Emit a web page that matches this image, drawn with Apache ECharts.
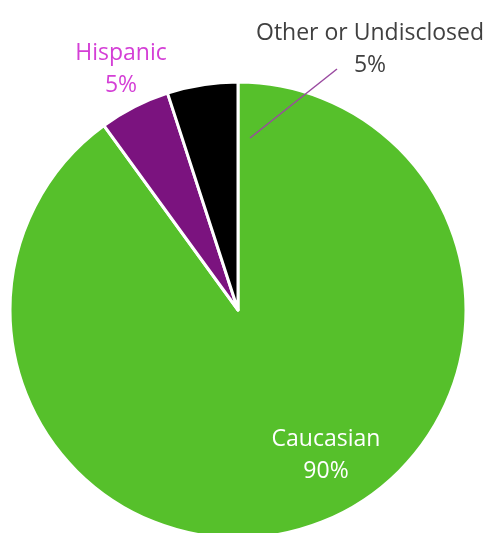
<!DOCTYPE html>
<html><head><meta charset="utf-8">
<script src="https://cdn.jsdelivr.net/npm/echarts@6/dist/echarts.min.js"></script>
<style>html,body{margin:0;padding:0;background:#fff}#c{width:489px;height:533px}</style>
</head><body><div id="c"></div>
<script>
const categories = ['Caucasian', 'Hispanic', 'Other or Undisclosed'];
const values = [90, 5, 5];
const colors = ['#56c02b', '#7b137f', '#000000'];
const labelColors = ['#ffffff', '#d43fd6', '#404040'];
const labelPos = [[326, 455], [121, 69], [370, 49]];

const chart = echarts.init(document.getElementById('c'));
chart.setOption({
  animation: false,
  graphic: [{
    type: 'polyline', silent: true, z: 100,
    shape: { points: [[250, 138], [337, 69]] },
    style: { stroke: '#9a4aa0', lineWidth: 1.5, fill: null }
  }],
  series: [{
    type: 'pie',
    center: [238, 310],
    radius: 228,
    startAngle: 90,
    clockwise: true,
    itemStyle: { borderColor: '#fff', borderWidth: 3 },
    label: {
      formatter: p => p.name + '\n' + p.value + '%',
      fontFamily: 'Open Sans', fontSize: 23, lineHeight: 32, align: 'center',
      overflow: 'none', width: 400
    },
    labelLine: { show: false },
    labelLayout: function (p) {
      const i = p.dataIndex;
      return { x: labelPos[i][0], y: labelPos[i][1], align: 'center', verticalAlign: 'middle', hideOverlap: false };
    },
    data: categories.map((c, i) => ({
      name: c, value: values[i],
      itemStyle: { color: colors[i] },
      label: { color: labelColors[i], position: i === 0 ? 'inside' : 'outside' }
    }))
  }]
});
</script></body></html>
